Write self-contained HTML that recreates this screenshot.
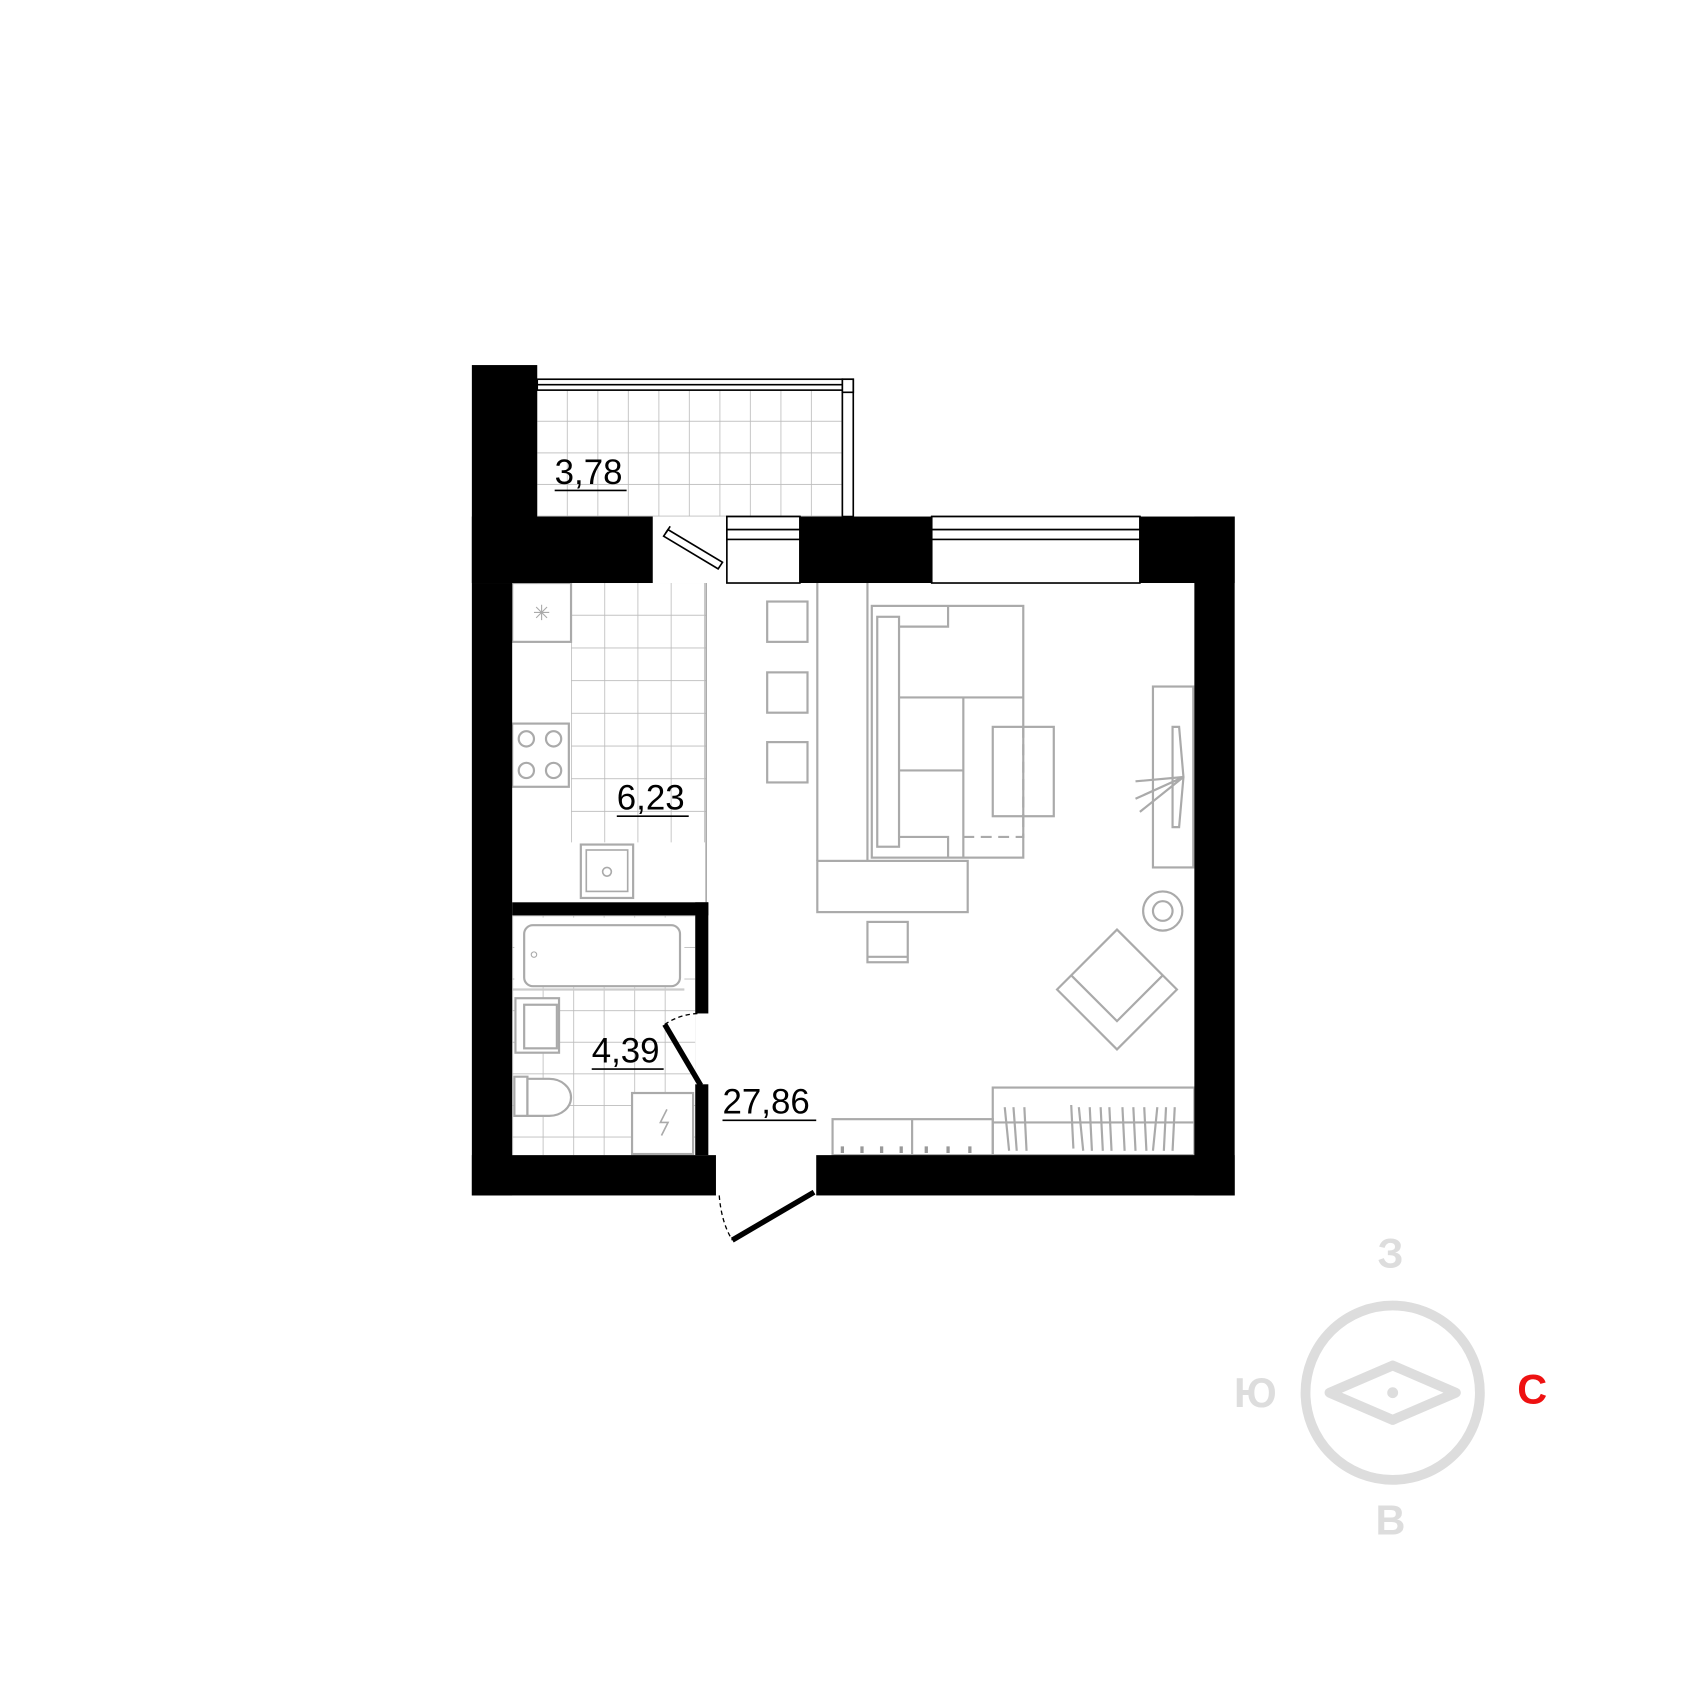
<!DOCTYPE html>
<html><head><meta charset="utf-8"><style>html,body{margin:0;padding:0;background:#fff}svg{display:block}</style></head>
<body>
<svg width="1700" height="1700" viewBox="0 0 1560 1560" xmlns="http://www.w3.org/2000/svg">
<defs>
<pattern id="t1" x="493" y="358" width="28" height="29" patternUnits="userSpaceOnUse"><path d="M28 0V29M0 29H28" fill="none" stroke="#bbb" stroke-width="1.5"/></pattern>
<pattern id="t2" x="524" y="535" width="30.5" height="30" patternUnits="userSpaceOnUse"><path d="M0 0V30M0 30H30.5" fill="none" stroke="#bbb" stroke-width="1.5"/></pattern>
<pattern id="t3" x="470" y="840" width="28" height="29" patternUnits="userSpaceOnUse"><path d="M0 0V29M0 0H28" fill="none" stroke="#bbb" stroke-width="1.5"/></pattern>
</defs>
<rect x="493" y="358" width="280" height="116" fill="url(#t1)"/>
<rect x="524" y="535" width="124" height="238" fill="url(#t2)"/>
<rect x="470" y="840" width="168" height="220" fill="url(#t3)"/>
<g fill="#fff" stroke="#aaa" stroke-width="2">
<rect x="472" y="842" width="156" height="64" stroke="none"/>
<rect x="481" y="849" width="143" height="56" rx="8"/>
<line x1="470" y1="908" x2="628" y2="908" stroke="#ccc"/>
<rect x="473" y="916" width="40" height="50"/><rect x="481" y="922" width="30" height="40"/>
<path d="M472 988h12v36h-12z"/><path d="M484 990h20a20 17 0 0 1 0 34h-20z"/>
<rect x="580" y="1003" width="56" height="56"/>
</g>
<path d="M612 1018l-6 12h7l-6 12" stroke="#aaa" fill="none" stroke-width="1.5"/>
<circle cx="490" cy="876" r="2.5" fill="none" stroke="#aaa"/>
<g fill="#fff" stroke="#aaa" stroke-width="2">
<rect x="470" y="535" width="54" height="54"/>
<rect x="470" y="664" width="52" height="58"/>
<circle cx="483" cy="678" r="7"/><circle cx="508" cy="678" r="7"/><circle cx="483" cy="707" r="7"/><circle cx="508" cy="707" r="7"/>
<rect x="533" y="775" width="48" height="49"/><rect x="538" y="780" width="38" height="38" stroke-width="1.5"/>
<circle cx="557" cy="800" r="4" stroke-width="1.5"/>
<line x1="648" y1="535" x2="648" y2="828" stroke-width="1.5"/>
</g>
<path d="M490 562h14M497 555v14M492 557l10 10M502 557l-10 10" stroke="#aaa" stroke-width="1"/>
<g fill="none" stroke="#aaa" stroke-width="2">
<rect x="704" y="552" width="37" height="37"/><rect x="704" y="617" width="37" height="37"/><rect x="704" y="681" width="37" height="37"/>
<line x1="750" y1="535" x2="750" y2="790"/><line x1="796" y1="535" x2="796" y2="790"/>
<rect x="750" y="790" width="138" height="47"/>
<rect x="800" y="556" width="139" height="231"/>
<rect x="805" y="566" width="20" height="211"/>
<path d="M825 575h45v-19M825 640h114M825 707h59M884 640v147M825 768h45v19"/>
<rect x="911" y="667" width="56" height="82"/>
<path d="M939 667v82M884 768h55v-19" stroke-dasharray="10 6"/>
<rect x="796" y="846" width="37" height="37"/><line x1="796" y1="878" x2="833" y2="878"/>
<rect x="1058" y="630" width="37" height="166"/>
<path d="M1076 667h6l4 46l-4 46h-6z"/>
<path d="M1086 713l-44 20M1086 713l-40 32M1086 713l-44 4"/>
<circle cx="1067" cy="836" r="18"/><circle cx="1067" cy="836" r="9"/>
<path d="M1025 853l55 55l-55 55l-55-55z"/><path d="M983 895l42 42l42-42"/>
<rect x="911" y="998" width="185" height="62"/><line x1="911" y1="1030" x2="1096" y2="1030"/>
<rect x="764" y="1027" width="147" height="33"/><line x1="837" y1="1027" x2="837" y2="1060"/>
<path d="M922 1016l4 40M930 1016l3 40M940 1016l2 40M983 1014l2 40M990 1016l4 40M1000 1016l2 40M1010 1016l2 40M1018 1016l2 40M1030 1016l2 40M1040 1016l2 40M1050 1016l2 40M1062 1016l-4 40M1070 1016l-2 40M1078 1016l-2 40"/>
</g>
<g stroke="#999" stroke-width="3"><path d="M773 1052v6M791 1052v6M809 1052v6M827 1052v6M850 1052v6M870 1052v6M890 1052v6"/></g>
<g fill="#fff" stroke="#000" stroke-width="1.5">
<rect x="493" y="348" width="280" height="10"/><line x1="493" y1="353" x2="773" y2="353"/>
<rect x="773" y="348" width="10" height="126"/><rect x="773" y="348" width="10" height="12"/>
<rect x="667" y="474" width="67" height="61"/><rect x="667" y="474" width="67" height="12"/><rect x="667" y="486" width="67" height="9"/>
<rect x="855" y="474" width="191" height="61"/><rect x="855" y="474" width="191" height="12"/><rect x="855" y="486" width="191" height="9"/>
<path d="M609 492l50 30l4-6l-50-30z" /><path d="M611 489l4-6"/>
</g>
<g fill="#000">
<rect x="433" y="335" width="60" height="200"/>
<rect x="433" y="474" width="166" height="61"/>
<rect x="433" y="535" width="37" height="562"/>
<rect x="433" y="1060" width="224" height="37"/>
<rect x="749" y="1060" width="384" height="37"/>
<rect x="1096" y="474" width="37" height="623"/>
<rect x="1046" y="474" width="87" height="61"/>
<rect x="734" y="474" width="121" height="61"/>
<rect x="470" y="828" width="180" height="12"/>
<rect x="638" y="828" width="12" height="102"/>
<rect x="638" y="995" width="12" height="65"/>
</g>
<path d="M610 940l33 56" stroke="#000" stroke-width="5"/>
<path d="M610 940q15-10 33-10" stroke="#000" fill="none" stroke-width="1.2" stroke-dasharray="4 3"/>
<path d="M672 1138l75-44" stroke="#000" stroke-width="5"/>
<path d="M660 1097q2 25 12 41" stroke="#000" fill="none" stroke-width="1.2" stroke-dasharray="4 3"/>
<g font-family="Liberation Sans, sans-serif" font-size="32" fill="#000">
<text x="509" y="444">3,78</text><line x1="509" y1="450" x2="575" y2="450" stroke="#000" stroke-width="1.5"/>
<text x="566" y="743">6,23</text><line x1="566" y1="749" x2="632" y2="749" stroke="#000" stroke-width="1.5"/>
<text x="543" y="975">4,39</text><line x1="543" y1="981" x2="609" y2="981" stroke="#000" stroke-width="1.5"/>
<text x="663" y="1022">27,86</text><line x1="663" y1="1028" x2="749" y2="1028" stroke="#000" stroke-width="1.5"/>
</g>
<circle cx="1278" cy="1278" r="80" fill="none" stroke="#ddd" stroke-width="9"/>
<path d="M1278 1253l58 25l-58 25l-58-25z" fill="none" stroke="#ddd" stroke-width="9" stroke-linejoin="round"/>
<circle cx="1278" cy="1278" r="5" fill="#ddd"/>
<g font-family="Liberation Sans, DejaVu Sans, sans-serif" font-size="38" font-weight="bold" text-anchor="middle">
<text x="1276" y="1163" fill="#ddd">З</text>
<text x="1152" y="1291" fill="#ddd">Ю</text>
<text x="1406" y="1288" fill="#e11">С</text>
<text x="1276" y="1408" fill="#ddd">В</text>
</g>
</svg>
</body></html>
